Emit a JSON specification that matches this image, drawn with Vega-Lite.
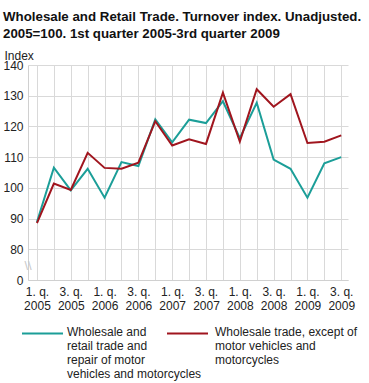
{
  "$schema": "https://vega.github.io/schema/vega-lite/v6.json",
  "width": 320,
  "height": 215,
  "autosize": {"type": "none"},
  "padding": {"left": 28, "top": 65, "right": 21, "bottom": 103},
  "background": "white",
  "config": {
    "view": {"stroke": null},
    "font": "Liberation Sans",
    "axis": {"labelFont": "Liberation Sans", "titleFont": "Liberation Sans"},
    "legend": {"labelFont": "Liberation Sans"}
  },
  "title": {
    "text": ["Wholesale and Retail Trade. Turnover index. Unadjusted.", "2005=100. 1st quarter 2005-3rd quarter 2009"],
    "anchor": "start",
    "frame": "group",
    "dx": -25,
    "fontSize": 13.3,
    "fontWeight": "bold",
    "lineHeight": 17,
    "color": "#111",
    "offset": 9
  },
  "datasets": {
    "series": [
      {"q": 0, "series": "Wholesale and retail trade and repair of motor vehicles and motorcycles", "value": 88.9},
      {"q": 1, "series": "Wholesale and retail trade and repair of motor vehicles and motorcycles", "value": 106.6},
      {"q": 2, "series": "Wholesale and retail trade and repair of motor vehicles and motorcycles", "value": 99.2},
      {"q": 3, "series": "Wholesale and retail trade and repair of motor vehicles and motorcycles", "value": 106.2},
      {"q": 4, "series": "Wholesale and retail trade and repair of motor vehicles and motorcycles", "value": 96.8},
      {"q": 5, "series": "Wholesale and retail trade and repair of motor vehicles and motorcycles", "value": 108.4},
      {"q": 6, "series": "Wholesale and retail trade and repair of motor vehicles and motorcycles", "value": 107.1},
      {"q": 7, "series": "Wholesale and retail trade and repair of motor vehicles and motorcycles", "value": 122.3},
      {"q": 8, "series": "Wholesale and retail trade and repair of motor vehicles and motorcycles", "value": 114.8},
      {"q": 9, "series": "Wholesale and retail trade and repair of motor vehicles and motorcycles", "value": 122.2},
      {"q": 10, "series": "Wholesale and retail trade and repair of motor vehicles and motorcycles", "value": 121.1},
      {"q": 11, "series": "Wholesale and retail trade and repair of motor vehicles and motorcycles", "value": 128.2},
      {"q": 12, "series": "Wholesale and retail trade and repair of motor vehicles and motorcycles", "value": 116.2},
      {"q": 13, "series": "Wholesale and retail trade and repair of motor vehicles and motorcycles", "value": 127.7},
      {"q": 14, "series": "Wholesale and retail trade and repair of motor vehicles and motorcycles", "value": 109.2},
      {"q": 15, "series": "Wholesale and retail trade and repair of motor vehicles and motorcycles", "value": 106.2},
      {"q": 16, "series": "Wholesale and retail trade and repair of motor vehicles and motorcycles", "value": 96.8},
      {"q": 17, "series": "Wholesale and retail trade and repair of motor vehicles and motorcycles", "value": 108.0},
      {"q": 18, "series": "Wholesale and retail trade and repair of motor vehicles and motorcycles", "value": 110.0},
      {"q": 0, "series": "Wholesale trade, except of motor vehicles and motorcycles", "value": 88.5},
      {"q": 1, "series": "Wholesale trade, except of motor vehicles and motorcycles", "value": 101.4},
      {"q": 2, "series": "Wholesale trade, except of motor vehicles and motorcycles", "value": 99.3},
      {"q": 3, "series": "Wholesale trade, except of motor vehicles and motorcycles", "value": 111.4},
      {"q": 4, "series": "Wholesale trade, except of motor vehicles and motorcycles", "value": 106.5},
      {"q": 5, "series": "Wholesale trade, except of motor vehicles and motorcycles", "value": 106.2},
      {"q": 6, "series": "Wholesale trade, except of motor vehicles and motorcycles", "value": 108.2},
      {"q": 7, "series": "Wholesale trade, except of motor vehicles and motorcycles", "value": 121.7},
      {"q": 8, "series": "Wholesale trade, except of motor vehicles and motorcycles", "value": 113.8},
      {"q": 9, "series": "Wholesale trade, except of motor vehicles and motorcycles", "value": 115.8},
      {"q": 10, "series": "Wholesale trade, except of motor vehicles and motorcycles", "value": 114.3},
      {"q": 11, "series": "Wholesale trade, except of motor vehicles and motorcycles", "value": 131.0},
      {"q": 12, "series": "Wholesale trade, except of motor vehicles and motorcycles", "value": 115.1},
      {"q": 13, "series": "Wholesale trade, except of motor vehicles and motorcycles", "value": 132.1},
      {"q": 14, "series": "Wholesale trade, except of motor vehicles and motorcycles", "value": 126.4},
      {"q": 15, "series": "Wholesale trade, except of motor vehicles and motorcycles", "value": 130.5},
      {"q": 16, "series": "Wholesale trade, except of motor vehicles and motorcycles", "value": 114.6},
      {"q": 17, "series": "Wholesale trade, except of motor vehicles and motorcycles", "value": 115.0},
      {"q": 18, "series": "Wholesale trade, except of motor vehicles and motorcycles", "value": 117.1}
    ]
  },
  "resolve": {"scale": {"color": "independent"}, "legend": {"color": "independent"}},
  "encoding": {
    "x": {
      "field": "q",
      "type": "quantitative",
      "scale": {"domain": [-0.53, 18.4], "nice": false, "zero": false},
      "axis": {
        "values": [0, 1, 2, 3, 4, 5, 6, 7, 8, 9, 10, 11, 12, 13, 14, 15, 16, 17, 18],
        "labelExpr": "datum.value % 2 == 0 ? [(datum.value % 4 + 1) + '. q.', '' + (2005 + floor(datum.value / 4))] : ''",
        "title": null,
        "ticks": false,
        "grid": true,
        "gridColor": "#d9d9d9",
        "gridWidth": 1,
        "domainColor": "#d0d0d0",
        "labelFontSize": 12,
        "labelColor": "#222",
        "labelLineHeight": 14,
        "labelPadding": 6,
        "labelFlush": false,
        "labelOverlap": false
      }
    },
    "y": {
      "field": "value",
      "type": "quantitative",
      "scale": {"domain": [70, 140], "nice": false, "zero": false},
      "axis": {
        "values": [70, 80, 90, 100, 110, 120, 130, 140],
        "labelExpr": "datum.value == 70 ? '0' : datum.label",
        "title": "Index",
        "titleAngle": 0,
        "titleAlign": "left",
        "titleBaseline": "middle",
        "titleX": -24,
        "titleY": -10,
        "titleFontSize": 12,
        "titleFontWeight": "normal",
        "titleColor": "#222",
        "ticks": false,
        "grid": true,
        "gridColor": "#d9d9d9",
        "domainColor": "#d0d0d0",
        "labelFontSize": 12,
        "labelColor": "#222",
        "labelPadding": 5,
        "labelOverlap": false
      }
    }
  },
  "layer": [
    {
      "data": {"name": "series"},
      "transform": [{"filter": "datum.series == 'Wholesale and retail trade and repair of motor vehicles and motorcycles'"}],
      "mark": {"type": "line", "strokeWidth": 2, "clip": false},
      "encoding": {
        "color": {
          "field": "series",
          "type": "nominal",
          "scale": {"range": ["#1b9e98"]},
          "legend": {
            "orient": "none",
            "legendX": -7,
            "legendY": 247,
            "title": null,
            "symbolType": "stroke",
            "symbolSize": 1681,
            "symbolStrokeWidth": 2,
            "labelFontSize": 12,
            "labelColor": "#222",
            "labelLimit": 300,
            "labelOffset": 3,
            "labelBaseline": "top",
            "labelExpr": "['Wholesale and', 'retail trade and', 'repair of motor', 'vehicles and motorcycles']",
            "encode": {"labels": {"update": {"dy": {"value": -7}, "lineHeight": {"value": 14}}}}
          }
        }
      }
    },
    {
      "data": {"name": "series"},
      "transform": [{"filter": "datum.series == 'Wholesale trade, except of motor vehicles and motorcycles'"}],
      "mark": {"type": "line", "strokeWidth": 2, "clip": false},
      "encoding": {
        "color": {
          "field": "series",
          "type": "nominal",
          "scale": {"range": ["#a0151e"]},
          "legend": {
            "orient": "none",
            "legendX": 138,
            "legendY": 247,
            "title": null,
            "symbolType": "stroke",
            "symbolSize": 1681,
            "symbolStrokeWidth": 2,
            "labelFontSize": 12,
            "labelColor": "#222",
            "labelLimit": 300,
            "labelOffset": 6,
            "labelBaseline": "top",
            "labelExpr": "['Wholesale trade, except of', 'motor vehicles and', 'motorcycles']",
            "encode": {"labels": {"update": {"dy": {"value": -7}, "lineHeight": {"value": 14}}}}
          }
        }
      }
    },
    {
      "data": {"values": [{"q": -0.53, "value": 74.5}]},
      "mark": {"type": "text", "text": "\\\\", "color": "#c8c8c8", "fontSize": 13, "clip": false}
    }
  ]
}
